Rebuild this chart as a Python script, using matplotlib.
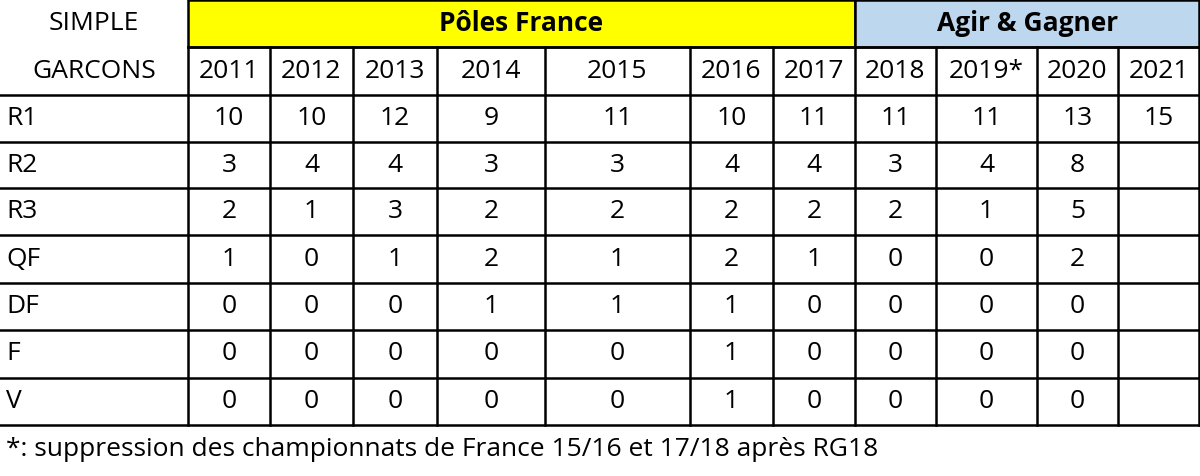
import matplotlib
matplotlib.use("Agg")
import matplotlib.pyplot as plt
from matplotlib.patches import Rectangle

years = ["2011","2012","2013","2014","2015","2016","2017","2018","2019*","2020","2021"]
rows = ["R1","R2","R3","QF","DF","F","V"]
R1 = [10,10,12,9,11,10,11,11,11,13,15]
R2 = [3,4,4,3,3,4,4,3,4,8,None]
R3 = [2,1,3,2,2,2,2,2,1,5,None]
QF = [1,0,1,2,1,2,1,0,0,2,None]
DF = [0,0,0,1,1,1,0,0,0,0,None]
F_ = [0,0,0,0,0,1,0,0,0,0,None]
V = [0,0,0,0,0,1,0,0,0,0,None]
values = [R1,R2,R3,QF,DF,F_,V]
groups = [("Pôles France", 0, 7, "#ffff00"), ("Agir & Gagner", 7, 11, "#bdd7ee")]
footnote = "*: suppression des championnats de France 15/16 et 17/18 après RG18"

W, H = 1200, 476
fig = plt.figure(figsize=(12, 4.76), dpi=100)
ax = fig.add_axes([0, 0, 1, 1])
ax.set_xlim(0, W); ax.set_ylim(H, 0); ax.axis("off")

xb = [188, 270, 353, 437, 545, 690, 773, 855, 936, 1037, 1118, 1200]
yb = [0, 47, 95, 142, 188, 235, 283, 330, 378, 425]
fam = ["Open Sans", "Liberation Sans", "DejaVu Sans"]
fs = 19
lw = 1.8

for name, a, b, col in groups:
    ax.add_patch(Rectangle((xb[a], yb[0]), xb[b]-xb[a], yb[1]-yb[0], facecolor=col, edgecolor="black", lw=lw))
    ax.text((xb[a]+xb[b])/2, (yb[0]+yb[1])/2, name, ha="center", va="center", fontsize=fs, fontweight="bold", family=fam)

ax.text(94, 24, "SIMPLE", ha="center", va="center", fontsize=fs, family=fam)
ax.text(94, 72, "GARCONS", ha="center", va="center", fontsize=fs, family=fam)
for i, y in enumerate(years):
    ax.text((xb[i]+xb[i+1])/2, 72, y, ha="center", va="center", fontsize=fs, family=fam)

for r, (lab, vals) in enumerate(zip(rows, values)):
    yc = (yb[r+2]+yb[r+3])/2
    ax.text(6, yc, lab, ha="left", va="center", fontsize=fs, family=fam)
    for i, v in enumerate(vals):
        if v is not None:
            ax.text((xb[i]+xb[i+1])/2, yc, str(v), ha="center", va="center", fontsize=fs, family=fam)

for y in yb[2:]:
    ax.plot([0, W], [y, y], color="black", lw=lw)
for x in xb[:-1]:
    ax.plot([x, x], [yb[1], yb[-1]], color="black", lw=lw)
ax.plot([xb[0], W], [yb[1], yb[1]], color="black", lw=lw)
ax.plot([W-1, W-1], [yb[0], yb[-1]], color="black", lw=lw)

ax.text(6, 450, footnote, ha="left", va="center", fontsize=fs, family=fam)
fig.savefig("out.png", dpi=100)
